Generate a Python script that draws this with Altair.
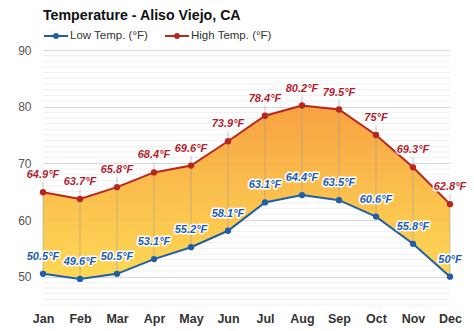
import altair as alt
import pandas as pd

months = ["Jan", "Feb", "Mar", "Apr", "May", "Jun", "Jul", "Aug", "Sep", "Oct", "Nov", "Dec"]
high = [64.9, 63.7, 65.8, 68.4, 69.6, 73.9, 78.4, 80.2, 79.5, 75, 69.3, 62.8]
low = [50.5, 49.6, 50.5, 53.1, 55.2, 58.1, 63.1, 64.4, 63.5, 60.6, 55.8, 50]
series_names = ["Low Temp. (°F)", "High Temp. (°F)"]
major_ticks = [50, 60, 70, 80, 90]
minor_ticks = [v for v in range(45, 91) if v % 10 != 0]

BLUE = "#1f5ea8"
RED = "#b9261f"
BLUE_TXT = "#1b5db3"
RED_TXT = "#b31d2c"
FONT = "Liberation Sans"

wide = pd.DataFrame({"month": months, "low": low, "high": high})
wide["low_lbl"] = [f"{v:g}°F" for v in low]
wide["high_lbl"] = [f"{v:g}°F" for v in high]

long = pd.DataFrame({
    "month": months * 2,
    "series": [series_names[0]] * 12 + [series_names[1]] * 12,
    "value": low + high,
})
minor_df = pd.DataFrame({"v": minor_ticks})

xscale = alt.Scale(type="point", domain=months, padding=0)
xaxis = alt.Axis(title=None, labelAngle=0, domain=False, ticks=False,
                 labelFontWeight="bold", labelFontSize=12.5, labelColor="#333",
                 labelPadding=7, grid=False)
yscale = alt.Scale(domain=[45, 90], nice=False, zero=False)
yaxis = alt.Axis(title=None, values=major_ticks, domain=False, ticks=False,
                 labelFontSize=12, labelColor="#555", labelPadding=12,
                 gridColor="#d9d9d9", gridWidth=1)


def X(field="month:N"):
    return alt.X(field, sort=months, scale=xscale, axis=xaxis)


def Y(field):
    return alt.Y(field, scale=yscale, axis=yaxis)


base = alt.Chart(wide)

minor = alt.Chart(minor_df).mark_rule(color="#efefef", strokeWidth=1).encode(y=Y("v:Q"))

area = base.mark_area(
    color=alt.Gradient(gradient="linear", x1=0, y1=0, x2=0, y2=1,
                       stops=[alt.GradientStop(color="#f79c38", offset=0),
                              alt.GradientStop(color="#fbbc44", offset=0.5),
                              alt.GradientStop(color="#fdd64c", offset=1)]),
    opacity=0.95
).encode(x=X(), y=Y("high:Q"), y2="low:Q")

rules = base.mark_rule(color="#9a9a9a", strokeWidth=1, opacity=0.55, y2Offset=-10).encode(
    x=X(), y=Y("low:Q"), y2="high:Q")

color_scale = alt.Scale(domain=series_names, range=[BLUE, RED])

lines = alt.Chart(long).mark_line(strokeWidth=2).encode(
    x=X(),
    y=Y("value:Q"),
    color=alt.Color("series:N", scale=color_scale,
                    legend=alt.Legend(
                        title=None, orient="none", direction="horizontal",
                        legendX=0, legendY=-27, padding=0,
                        symbolType="M-1,0L1,0M-0.16,0A0.16,0.16 0 1,0 0.16,0A0.16,0.16 0 1,0 -0.16,0M-0.07,0A0.07,0.07 0 1,0 0.07,0A0.07,0.07 0 1,0 -0.07,0",
                        symbolSize=576, symbolStrokeWidth=2,
                        labelFontSize=11.5, labelColor="#333", labelFont=FONT,
                        labelOffset=1, columnPadding=12)),
)

points = alt.Chart(long).mark_circle(size=40, opacity=1).encode(
    x=X(),
    y=Y("value:Q"),
    color=alt.Color("series:N", scale=color_scale, legend=None),
)

txt_kw = dict(fontSize=11, fontWeight="bold", fontStyle="italic", font=FONT, dy=-17)
high_halo = base.mark_text(stroke="white", strokeWidth=3, strokeJoin="round", color="white", **txt_kw).encode(
    x=X(), y=Y("high:Q"), text="high_lbl:N")
high_txt = base.mark_text(color=RED_TXT, **txt_kw).encode(
    x=X(), y=Y("high:Q"), text="high_lbl:N")
low_halo = base.mark_text(stroke="white", strokeWidth=3, strokeJoin="round", color="white", **txt_kw).encode(
    x=X(), y=Y("low:Q"), text="low_lbl:N")
low_txt = base.mark_text(color=BLUE_TXT, **txt_kw).encode(
    x=X(), y=Y("low:Q"), text="low_lbl:N")

chart = alt.layer(minor, area, rules, lines, points, high_halo, low_halo, high_txt, low_txt).properties(
    width=407, height=255,
    title=alt.TitleParams("Temperature - Aliso Viejo, CA", anchor="start", frame="group", fontSize=14.2,
                          fontWeight="bold", color="#111", font=FONT, offset=0),
    autosize=alt.AutoSizeParams(type="none"),
    padding={"left": 43, "top": 50, "right": 24, "bottom": 26},
).configure(font=FONT).configure_view(stroke=None)

chart.save("out.html", embed_options={"renderer": "svg", "actions": False})
